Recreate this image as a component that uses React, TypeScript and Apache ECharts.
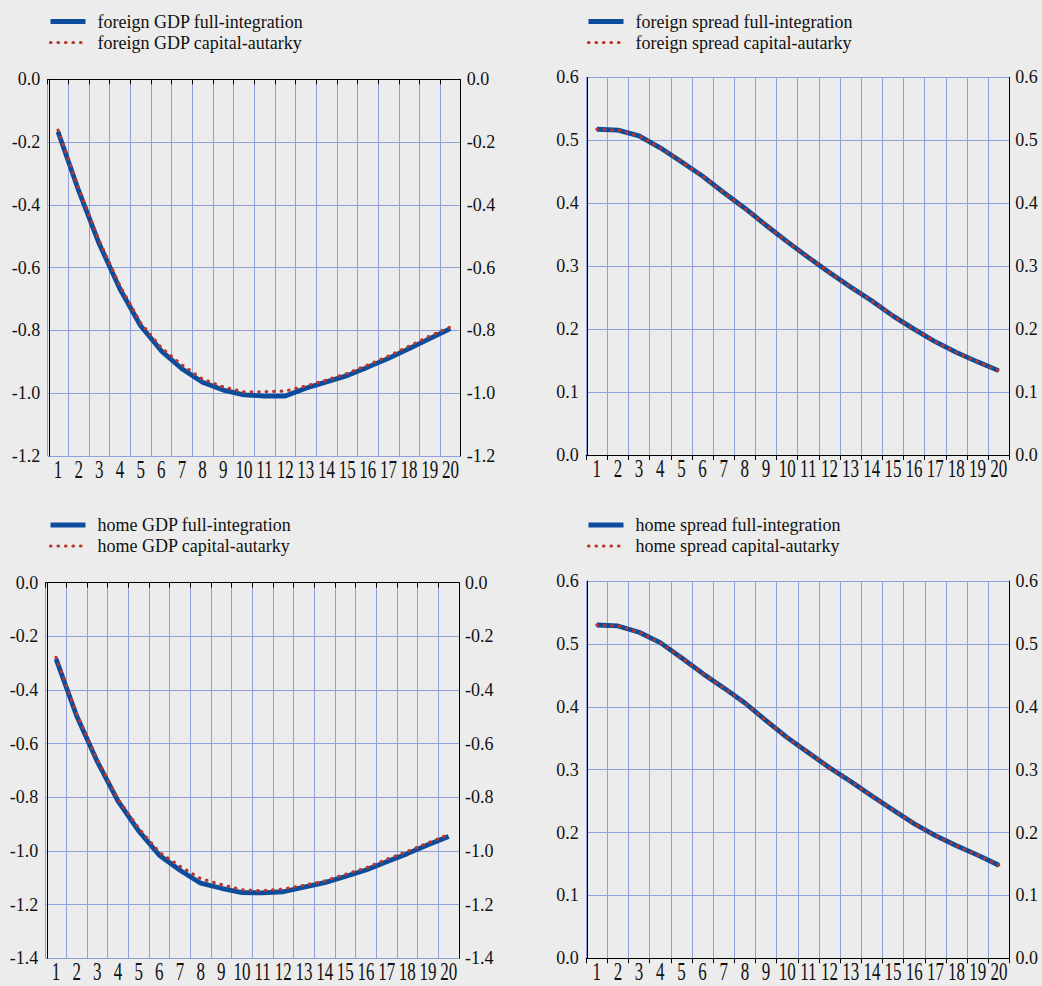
import React, { useEffect, useRef } from "react";
import * as echarts from "echarts";

const categories = ["1", "2", "3", "4", "5", "6", "7", "8", "9", "10", "11", "12", "13", "14", "15", "16", "17", "18", "19", "20"];

const foreignGdpFull = [-0.167, -0.355, -0.525, -0.668, -0.785, -0.865, -0.922, -0.965, -0.99, -1.005, -1.009, -1.009, -0.984, -0.964, -0.944, -0.917, -0.889, -0.858, -0.826, -0.794];
const foreignGdpAutarky = [-0.162, -0.348, -0.515, -0.658, -0.776, -0.855, -0.91, -0.955, -0.98, -0.996, -0.995, -0.993, -0.977, -0.958, -0.937, -0.91, -0.882, -0.85, -0.818, -0.789];

const foreignSpreadFull = [0.5175, 0.516, 0.507, 0.488, 0.466, 0.443, 0.417, 0.392, 0.365, 0.339, 0.314, 0.29, 0.267, 0.245, 0.221, 0.2, 0.18, 0.163, 0.148, 0.134];
const foreignSpreadAutarky = [0.5175, 0.516, 0.507, 0.488, 0.466, 0.443, 0.417, 0.392, 0.365, 0.339, 0.314, 0.29, 0.267, 0.245, 0.221, 0.2, 0.18, 0.163, 0.148, 0.134];

const homeGdpFull = [-0.284, -0.497, -0.667, -0.814, -0.925, -1.016, -1.072, -1.12, -1.139, -1.155, -1.156, -1.152, -1.135, -1.118, -1.095, -1.071, -1.04, -1.01, -0.977, -0.946];
const homeGdpAutarky = [-0.278, -0.49, -0.66, -0.807, -0.915, -1.005, -1.057, -1.103, -1.125, -1.145, -1.148, -1.142, -1.128, -1.112, -1.087, -1.063, -1.031, -1.002, -0.97, -0.939];

const homeSpreadFull = [0.53, 0.5285, 0.5185, 0.502, 0.478, 0.453, 0.43, 0.406, 0.378, 0.351, 0.327, 0.303, 0.281, 0.258, 0.236, 0.214, 0.195, 0.179, 0.164, 0.148];
const homeSpreadAutarky = [0.53, 0.5285, 0.5185, 0.502, 0.478, 0.453, 0.43, 0.406, 0.378, 0.351, 0.327, 0.303, 0.281, 0.258, 0.236, 0.214, 0.195, 0.179, 0.164, 0.148];

const FONT = "Liberation Serif";
const BG = "#ececec";
const GRID = "#8fa0db";
const BLUE = "#0b4c9c";
const RED = "#b8372c";
const TEXT = "#111111";

type Panel = {
  grid: { left: number; top: number; width: number; height: number };
  legend: { left: number; top: number };
  yMin: number;
  yMax: number;
  yInterval: number;
  full: number[];
  autarky: number[];
  names: [string, string];
  zeroLine: boolean;
};

const panels: Panel[] = [
  {
    grid: { left: 47.7, top: 79.3, width: 413, height: 376.7 },
    legend: { left: 48, top: 11 },
    yMin: -1.2, yMax: 0, yInterval: 0.2,
    full: foreignGdpFull, autarky: foreignGdpAutarky,
    names: ["foreign GDP full-integration", "foreign GDP capital-autarky"],
    zeroLine: true,
  },
  {
    grid: { left: 586.2, top: 77.3, width: 423, height: 377.7 },
    legend: { left: 586, top: 11 },
    yMin: 0, yMax: 0.6, yInterval: 0.1,
    full: foreignSpreadFull, autarky: foreignSpreadAutarky,
    names: ["foreign spread full-integration", "foreign spread capital-autarky"],
    zeroLine: false,
  },
  {
    grid: { left: 45.7, top: 582.7, width: 413.3, height: 375.6 },
    legend: { left: 48, top: 514.5 },
    yMin: -1.4, yMax: 0, yInterval: 0.2,
    full: homeGdpFull, autarky: homeGdpAutarky,
    names: ["home GDP full-integration", "home GDP capital-autarky"],
    zeroLine: true,
  },
  {
    grid: { left: 586.2, top: 581, width: 423.3, height: 377.3 },
    legend: { left: 586, top: 514.5 },
    yMin: 0, yMax: 0.6, yInterval: 0.1,
    full: homeSpreadFull, autarky: homeSpreadAutarky,
    names: ["home spread full-integration", "home spread capital-autarky"],
    zeroLine: false,
  },
];

const blueLine = { color: BLUE, width: 4.8, cap: "butt" };
const redDots = { color: RED, width: 3.2, type: [0.5, 7], cap: "round" };

function buildOption() {
  const grid: any[] = [];
  const xAxis: any[] = [];
  const yAxis: any[] = [];
  const series: any[] = [];
  const legend: any[] = [];

  panels.forEach((p, i) => {
    grid.push({ ...p.grid, containLabel: false });
    xAxis.push({
      type: "category",
      gridIndex: i,
      data: categories,
      boundaryGap: true,
      offset: 2,
      axisLine: { show: true, lineStyle: { color: "#000", width: 1 } },
      axisTick: { show: true, length: 5, interval: 0, lineStyle: { color: "#000", width: 1 } },
      axisLabel: { show: false },
      splitLine: { show: true, interval: 0, lineStyle: { color: GRID, width: 1 } },
    });
    const fmt = (v: number) => v.toFixed(1);
    yAxis.push({
      type: "value",
      gridIndex: i,
      position: "left",
      min: p.yMin,
      max: p.yMax,
      interval: p.yInterval,
      offset: -1.5,
      axisLine: { show: true, lineStyle: { color: "#000", width: 1 } },
      axisTick: { show: false },
      axisLabel: { formatter: fmt, margin: 9, fontSize: 18, fontFamily: FONT, color: TEXT },
      splitLine: { show: true, lineStyle: { color: GRID, width: 1 } },
    });
    yAxis.push({
      type: "value",
      gridIndex: i,
      position: "right",
      min: p.yMin,
      max: p.yMax,
      interval: p.yInterval,
      axisLine: { show: true, lineStyle: { color: "#000", width: 1 } },
      axisTick: { show: false },
      axisLabel: { formatter: fmt, margin: 6, fontSize: 18, fontFamily: FONT, color: TEXT },
      splitLine: { show: false },
    });
    const fullSeries: any = {
      name: p.names[0],
      type: "line",
      xAxisIndex: i,
      yAxisIndex: i * 2,
      data: p.full,
      symbol: "none",
      smooth: false,
      lineStyle: blueLine,
      itemStyle: { color: BLUE },
      z: 3,
    };
    if (p.zeroLine) {
      fullSeries.markLine = {
        silent: true,
        symbol: "none",
        label: { show: false },
        lineStyle: { color: "#000", width: 1, type: "solid" },
        data: [{ yAxis: 0 }],
      };
    }
    series.push(fullSeries);
    series.push({
      name: p.names[1],
      type: "line",
      xAxisIndex: i,
      yAxisIndex: i * 2,
      data: p.autarky,
      symbol: "none",
      smooth: false,
      lineStyle: redDots,
      itemStyle: { color: RED },
      z: 4,
    });
    // condensed category labels (tall, narrow digits as in the reference)
    series.push({
      type: "custom",
      xAxisIndex: i,
      yAxisIndex: i * 2,
      clip: false,
      silent: true,
      data: categories.map((c) => [c, p.yMin]),
      renderItem: (params: any, api: any) => {
        const pt = api.coord([api.value(0), api.value(1)]);
        return {
          type: "text",
          x: pt[0],
          y: pt[1] + 13.5,
          scaleX: 0.68,
          style: {
            text: categories[params.dataIndex],
            fontSize: 25,
            fontFamily: FONT,
            fill: TEXT,
            align: "center",
            verticalAlign: "middle",
          },
        };
      },
      z: 5,
    });
    legend.push({
      data: [
        { name: p.names[0], lineStyle: { ...blueLine, width: 5 } },
        { name: p.names[1], lineStyle: redDots },
      ],
      left: p.legend.left,
      top: p.legend.top,
      padding: 0,
      orient: "vertical",
      itemWidth: 35,
      itemHeight: 10,
      itemGap: 0,
      selectedMode: false,
      itemStyle: { opacity: 0, borderWidth: 0 },
      lineStyle: { width: "inherit" },
      textStyle: { fontSize: 18, fontFamily: FONT, color: TEXT, lineHeight: 21, padding: [0, 0, 0, 7] },
    });
  });

  return {
    animation: false,
    backgroundColor: BG,
    textStyle: { fontFamily: FONT },
    grid,
    xAxis,
    yAxis,
    series,
    legend,
  };
}

export default function App() {
  const ref = useRef<HTMLDivElement>(null);
  useEffect(() => {
    if (!ref.current) return;
    const chart = echarts.init(ref.current, undefined, { renderer: "svg" });
    chart.setOption(buildOption());
    return () => chart.dispose();
  }, []);
  return (
    <div
      ref={ref}
      style={{ position: "fixed", left: 0, top: 0, width: 1042, height: 986, background: BG }}
    />
  );
}
